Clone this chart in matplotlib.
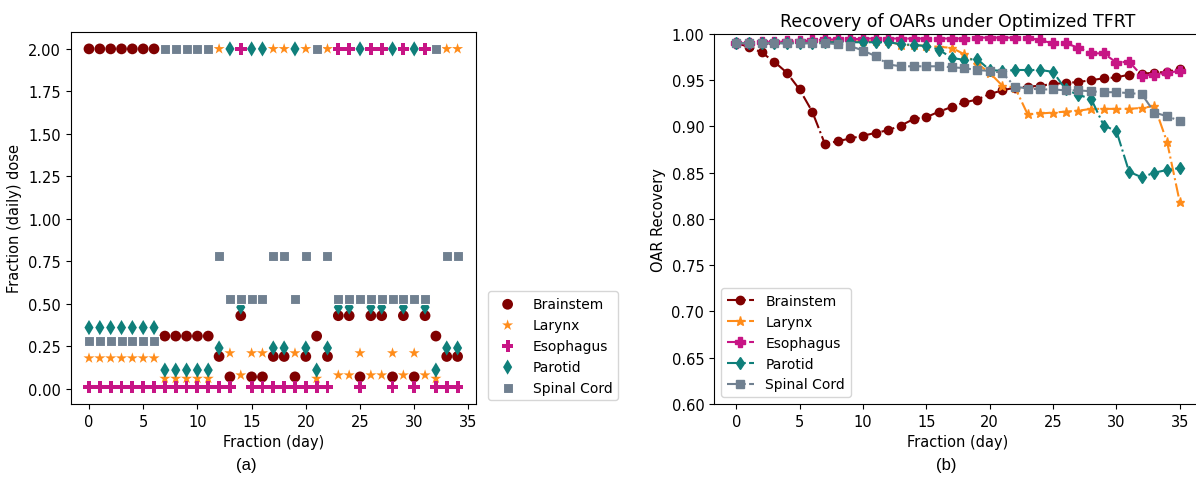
import matplotlib
matplotlib.use('Agg')
import matplotlib.pyplot as plt
import numpy as np

# organ names and styles
organs = ['Brainstem', 'Larynx', 'Esophagus', 'Parotid', 'Spinal Cord']
colors = ['#800000', '#ff8c1a', '#c71585', '#0f7f7a', '#708090']
markers = ['o', '*', 'P', 'd', 's']

# (a) fraction dose per day, days 0..34
days_a = list(range(35))
brainstem_dose = [2.0] * 7 + [0.31] * 5 + [0.19, 0.07, 0.43, 0.07, 0.07, 0.19, 0.19, 0.07, 0.19, 0.31,
                                         0.19, 0.43, 0.43, 0.07, 0.43, 0.43, 0.07, 0.43, 0.07, 0.43,
                                         0.31, 0.19, 0.19]
larynx_dose = [0.18] * 7 + [0.06] * 5 + [2.0, 0.21, 0.08, 0.21, 0.21, 2.0, 2.0, 0.21, 2.0, 0.06,
                                       2.0, 0.08, 0.08, 0.21, 0.08, 0.08, 0.21, 0.08, 0.21, 0.08,
                                       0.06, 2.0, 2.0]
esophagus_dose = [0.01] * 14 + [2.0] + [0.01] * 8 + [2.0, 2.0, 0.01, 2.0, 2.0, 0.01, 2.0, 0.01, 2.0,
                                                    0.01, 0.01, 0.01]
parotid_dose = [0.36] * 7 + [0.11] * 5 + [0.24, 2.0, 0.48, 2.0, 2.0, 0.24, 0.24, 2.0, 0.24, 0.11,
                                        0.24, 0.48, 0.48, 2.0, 0.48, 0.48, 2.0, 0.48, 2.0, 0.48,
                                        0.11, 0.24, 0.24]
spinal_dose = [0.28] * 7 + [2.0] * 5 + [0.78, 0.53, 0.53, 0.53, 0.53, 0.78, 0.78, 0.53, 0.78, 2.0,
                                       0.78, 0.53, 0.53, 0.53, 0.53, 0.53, 0.53, 0.53, 0.53, 0.53,
                                       2.0, 0.78, 0.78]

# (b) recovery, days 0..35
days_b = list(range(36))
brainstem_rec = [0.990, 0.986, 0.980, 0.970, 0.958, 0.940, 0.916, 0.881, 0.884, 0.887, 0.890, 0.893,
                 0.896, 0.901, 0.908, 0.910, 0.916, 0.921, 0.926, 0.929, 0.935, 0.939, 0.942, 0.943,
                 0.944, 0.946, 0.947, 0.948, 0.950, 0.952, 0.953, 0.956, 0.957, 0.958, 0.959, 0.962]
larynx_rec = [0.990, 0.990, 0.990, 0.990, 0.991, 0.991, 0.991, 0.992, 0.992, 0.992, 0.992, 0.992,
              0.992, 0.988, 0.988, 0.987, 0.986, 0.985, 0.978, 0.968, 0.958, 0.944, 0.942, 0.913,
              0.914, 0.915, 0.916, 0.917, 0.919, 0.919, 0.919, 0.919, 0.920, 0.922, 0.883, 0.818]
esophagus_rec = [0.990, 0.990, 0.991, 0.991, 0.992, 0.992, 0.993, 0.994, 0.994, 0.994, 0.995, 0.995,
                 0.995, 0.995, 0.995, 0.995, 0.995, 0.995, 0.995, 0.996, 0.996, 0.996, 0.996, 0.996,
                 0.993, 0.990, 0.990, 0.985, 0.979, 0.979, 0.969, 0.970, 0.955, 0.956, 0.958, 0.960]
parotid_rec = [0.990, 0.990, 0.990, 0.990, 0.990, 0.990, 0.990, 0.991, 0.991, 0.991, 0.991, 0.991,
               0.991, 0.989, 0.988, 0.987, 0.983, 0.974, 0.972, 0.973, 0.961, 0.960, 0.961, 0.961,
               0.961, 0.959, 0.940, 0.934, 0.930, 0.901, 0.895, 0.851, 0.845, 0.850, 0.853, 0.855]
spinal_rec = [0.990, 0.990, 0.990, 0.990, 0.990, 0.990, 0.990, 0.990, 0.989, 0.987, 0.982, 0.976,
              0.967, 0.965, 0.965, 0.965, 0.965, 0.964, 0.963, 0.961, 0.960, 0.958, 0.943, 0.941,
              0.940, 0.940, 0.939, 0.939, 0.938, 0.937, 0.937, 0.936, 0.935, 0.915, 0.911, 0.906]

doses = [brainstem_dose, larynx_dose, esophagus_dose, parotid_dose, spinal_dose]
recs = [brainstem_rec, larynx_rec, esophagus_rec, parotid_rec, spinal_rec]
sizes_a = [60, 70, 70, 60, 55]
edge_a = ['none', 'none', 'none', 'none', 'white']
sizes_b = [6, 6.5, 7, 6, 6]

plt.rcParams['font.size'] = 10.5
fig = plt.figure(figsize=(11.96, 4.85), dpi=100)

# left plot
ax1 = fig.add_axes([0.059, 0.165, 0.339, 0.767])
for name, d, c, m, s, e in zip(organs, doses, colors, markers, sizes_a, edge_a):
    ax1.scatter(days_a, d, color=c, marker=m, s=s, label=name, zorder=3,
                edgecolors=e, linewidths=0.8)
ax1.set_xlabel('Fraction (day)')
ax1.set_ylabel('Fraction (daily) dose')
ax1.set_xticks([0, 5, 10, 15, 20, 25, 30, 35])
ax1.set_yticks(np.arange(0, 2.01, 0.25))
ax1.legend(loc='lower left', bbox_to_anchor=(1.03, 0.01), borderaxespad=0., fontsize=10)
fig.text(0.206, 0.03, '(a)', ha='center', fontsize=12, family='Liberation Sans')

# right plot
ax2 = fig.add_axes([0.597, 0.165, 0.408, 0.763])
for name, r, c, m, s in zip(organs, recs, colors, markers, sizes_b):
    ax2.plot(days_b, r, color=c, marker=m, markersize=s, linestyle='-.', linewidth=1.5,
             label=name)
ax2.set_ylim(0.6, 1.0)
ax2.set_xlabel('Fraction (day)')
ax2.set_ylabel('OAR Recovery')
ax2.set_title('Recovery of OARs under Optimized TFRT', fontsize=12.5)
ax2.set_xticks([0, 5, 10, 15, 20, 25, 30, 35])
ax2.legend(loc='lower left', fontsize=10)
fig.text(0.791, 0.03, '(b)', ha='center', fontsize=12, family='Liberation Sans')

plt.savefig('out.png', dpi=100)
